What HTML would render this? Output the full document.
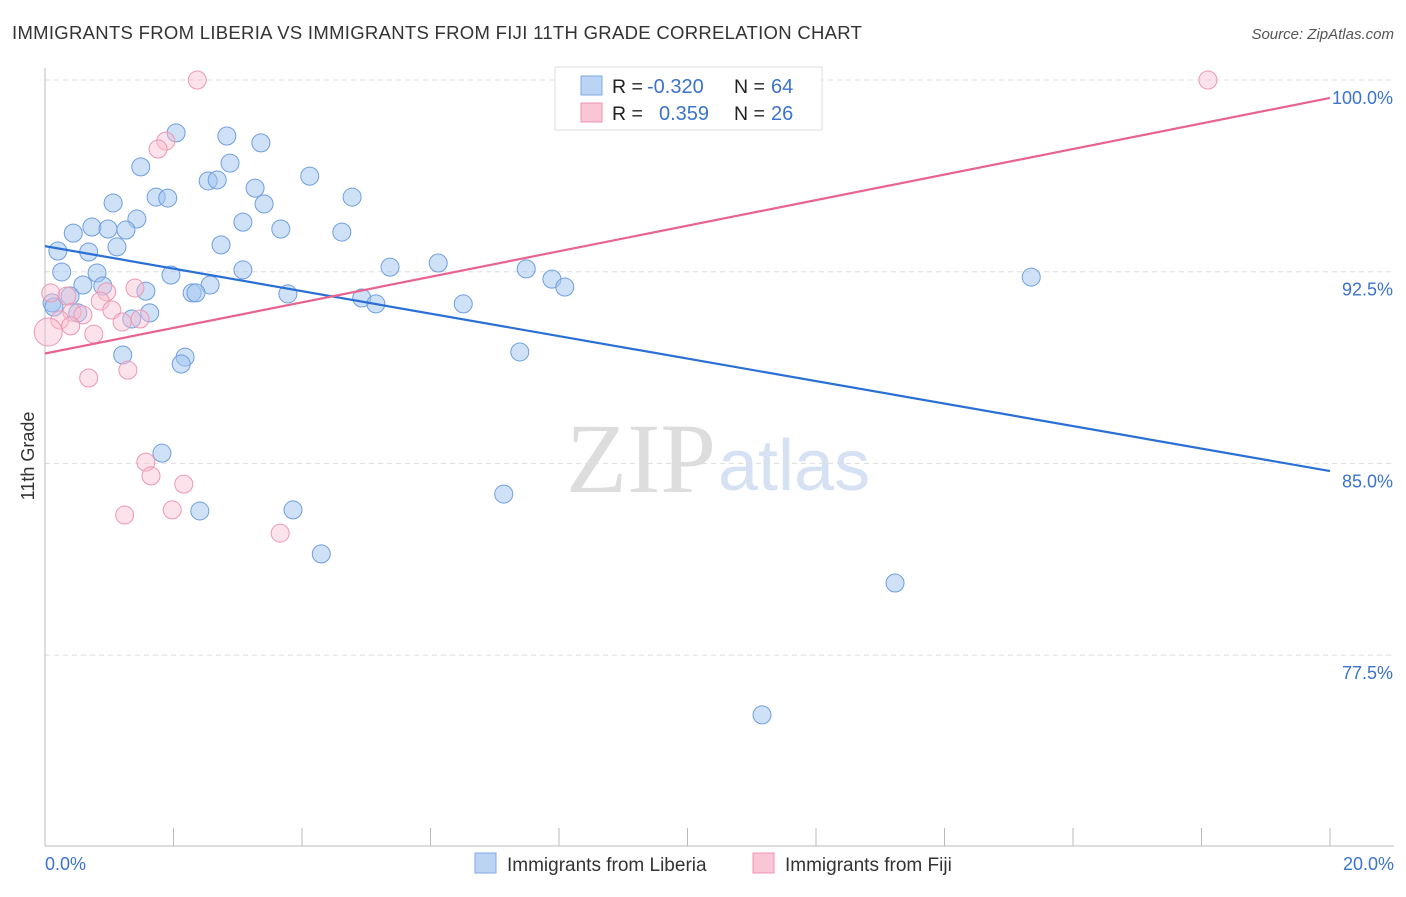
<!DOCTYPE html>
<html><head><meta charset="utf-8"><style>
body{margin:0;background:#fff;font-family:"Liberation Sans",sans-serif;}
svg text{font-family:"Liberation Sans",sans-serif;}
</style></head><body>
<svg id="chart" width="1406" height="892" xmlns="http://www.w3.org/2000/svg">
<text x="12" y="39" font-size="18.5" letter-spacing="0.3" fill="#333">IMMIGRANTS FROM LIBERIA VS IMMIGRANTS FROM FIJI 11TH GRADE CORRELATION CHART</text>
<text x="1394" y="39" font-size="15" fill="#555" text-anchor="end" font-style="italic">Source: ZipAtlas.com</text>
<text x="716" y="492" font-size="100" fill="#ddd" text-anchor="end" font-family="Liberation Serif" style="font-family:'Liberation Serif',serif">ZIP</text>
<text x="718" y="490" font-size="72" fill="#d6e2f3">atlas</text>
<g id="grid"></g>
<g id="axes"></g>
<g id="marks"></g>
<text transform="translate(34,456) rotate(-90)" font-size="18" fill="#333" text-anchor="middle">11th Grade</text>
<g>
<rect x="555" y="67" width="267" height="63" fill="#fff" stroke="#ddd"/>
<rect x="581" y="76" width="21" height="19" fill="#bcd4f4" stroke="#7fa9e4"/>
<rect x="581" y="103" width="21" height="19" fill="#f9c6d5" stroke="#ee94b0"/>
<text x="612" y="93" font-size="19.5" fill="#222">R =</text>
<text x="647" y="93" font-size="20" fill="#3b73cc">-0.320</text>
<text x="734" y="93" font-size="19.5" fill="#222">N =</text>
<text x="771" y="93" font-size="20" fill="#3b73cc">64</text>
<text x="612" y="120" font-size="19.5" fill="#222">R =</text>
<text x="659" y="120" font-size="20" fill="#3b73cc">0.359</text>
<text x="734" y="120" font-size="19.5" fill="#222">N =</text>
<text x="771" y="120" font-size="20" fill="#3b73cc">26</text>
</g>
<g>
<rect x="475" y="853" width="21" height="20" fill="#bcd4f4" stroke="#7fa9e4"/>
<text x="507" y="871" font-size="19" fill="#333">Immigrants from Liberia</text>
<rect x="753" y="853" width="21" height="20" fill="#f9c6d5" stroke="#ee94b0"/>
<text x="785" y="871" font-size="19" fill="#333">Immigrants from Fiji</text>
</g>
</svg>
<script>
const yTicks=[100,92.5,85,77.5];
const yTickLabels=["100.0%","92.5%","85.0%","77.5%"];
const xTickLabels=["0.0%","20.0%"];
const liberiaX=[9.47,2.04,2.83,3.36,1.49,2.88,2.54,2.68,3.27,4.12,1.73,1.91,4.78,1.06,3.41,1.43,3.08,0.73,0.98,1.26,3.67,4.62,0.44,2.74,1.12,0.20,0.68,5.37,6.12,3.08,0.26,1.96,0.81,7.49,7.89,15.35,0.59,2.57,8.09,0.90,1.57,2.29,2.35,3.78,4.93,5.15,6.51,0.39,0.11,0.14,0.51,1.63,1.35,1.21,2.18,2.12,7.39,1.82,7.14,2.41,3.86,4.30,13.23,11.16];
const liberiaY=[100,97.93,97.81,97.54,96.60,96.75,96.05,96.09,95.77,96.24,95.42,95.38,95.42,95.19,95.15,94.56,94.44,94.25,94.17,94.13,94.17,94.05,94.01,93.55,93.47,93.31,93.27,92.68,92.84,92.57,92.49,92.37,92.45,92.61,92.21,92.29,91.98,91.98,91.90,91.94,91.74,91.67,91.67,91.63,91.47,91.24,91.24,91.55,91.28,91.12,90.89,90.89,90.65,89.24,89.16,88.89,89.36,85.40,83.80,83.14,83.18,81.46,80.32,75.16];
const fijiX=[2.37,1.88,1.76,0.09,0.34,0.96,1.40,0.86,1.04,0.42,0.59,0.23,1.20,1.48,0.40,0.76,0.05,0.68,1.29,1.57,1.65,2.16,1.24,1.98,3.66,18.10];
const fijiY=[100,97.61,97.30,91.67,91.55,91.71,91.86,91.35,91.00,90.92,90.81,90.61,90.53,90.65,90.38,90.06,90.14,88.34,88.65,85.05,84.51,84.19,82.98,83.18,82.27,100];
const liberiaTrend=[93.50,84.70];
const fijiTrend=[89.30,99.30];
const NS="http://www.w3.org/2000/svg";
const X0=45,X1=1330,Y100=80,PX=25.56;
const xs=v=>X0+(v/20)*(X1-X0);
const ys=v=>Y100+(100-v)*PX;
function mk(tag,attrs,parent){const e=document.createElementNS(NS,tag);for(const k in attrs)e.setAttribute(k,attrs[k]);parent.appendChild(e);return e;}
const grid=document.getElementById('grid'),axes=document.getElementById('axes'),marks=document.getElementById('marks');
yTicks.forEach((t,i)=>{
  const l=mk('line',{x1:X0,x2:1394,y1:ys(t),y2:ys(t),stroke:'#ddd','stroke-dasharray':'5,4'},grid);
  
  
  const tx=mk('text',{x:1393,y:ys(t)+24,'font-size':18,fill:'#3b73cc','text-anchor':'end'},axes);
  tx.textContent=yTickLabels[i];
  
  
});
const ya=mk('line',{x1:X0,x2:X0,y1:68,y2:846,stroke:'#bbb'},axes);


const xa=mk('line',{x1:X0,x2:1394,y1:846,y2:846,stroke:'#bbb'},axes);


for(let i=0;i<=10;i++){
  const t=mk('line',{x1:xs(i*2),x2:xs(i*2),y1:828,y2:846,stroke:'#bbb'},axes);
  
  
}
const xl0=mk('text',{x:45,y:870,'font-size':18,fill:'#3b73cc'},axes);xl0.textContent=xTickLabels[0];


const xl1=mk('text',{x:1394,y:870,'font-size':18,fill:'#3b73cc','text-anchor':'end'},axes);xl1.textContent=xTickLabels[1];


liberiaX.forEach((v,i)=>{
  const c=mk('circle',{cx:xs(v),cy:ys(liberiaY[i]),r:9,fill:'rgba(160,196,240,0.5)',stroke:'#6f9ee0','stroke-width':1},marks);
  
  
});
fijiX.forEach((v,i)=>{
  const c=mk('circle',{cx:xs(v),cy:ys(fijiY[i]),r:i==16?14:9,fill:'rgba(248,190,208,0.45)',stroke:'#ec98b2','stroke-width':1},marks);
  
  
});
const bl=mk('line',{x1:xs(0),y1:ys(liberiaTrend[0]),x2:xs(20),y2:ys(liberiaTrend[1]),stroke:'#2a6fd6','stroke-width':2.2},marks);


const pl=mk('line',{x1:xs(0),y1:ys(fijiTrend[0]),x2:xs(20),y2:ys(fijiTrend[1]),stroke:'#e8648f','stroke-width':2.2},marks);


</script>
</body></html>
